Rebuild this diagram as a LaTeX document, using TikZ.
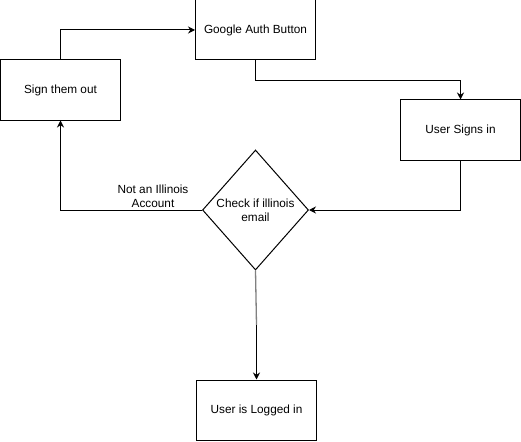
\documentclass[tikz,border=0pt]{standalone}
\usepackage{fontspec}
\setmainfont{Liberation Sans}
\usetikzlibrary{shapes.geometric,arrows.meta}
\begin{document}
\begin{tikzpicture}[x=1pt,y=-1pt,
  every node/.style={font=\fontsize{11.8}{14}\selectfont},
  box/.style={draw,line width=1pt,minimum width=120pt,minimum height=60pt,inner sep=0pt},
  conn/.style={line width=1pt,-{Stealth[length=7pt,width=7pt]}},
  lab/.style={align=center,inner sep=0pt}]
\useasboundingbox (0,0) rectangle (521,441);
\node[box] (auth) at (255.5,30) {Google Auth Button};
\node[box] (out) at (60.5,90) {Sign them out};
\node[box] (user) at (460.5,130) {User Signs in};
\node[draw,diamond,line width=1pt,minimum width=106pt,minimum height=120pt,inner sep=0pt] (chk) at (255.5,210) {};
\node[lab] (chktext) at (chk) {Check if illinois\\email};
\node[box] (logged) at (256.5,410) {User is Logged in};
\node[lab] (notil) at (153,196) {Not an Illinois\\Account};
\coordinate (mid) at (256.5,325);
\draw[conn] (out.north) |- (auth.west);
\draw[conn] (auth.south) -- ++(0,20) -| (user.north);
\draw[conn] (user.south) |- (chk.east);
\draw[conn] (chk.west) -| (out.south);
\draw[line width=1.3pt,black!50] (chk.south) -- (mid);
\draw[conn] (mid) -- (logged.north);
\end{tikzpicture}
\end{document}
